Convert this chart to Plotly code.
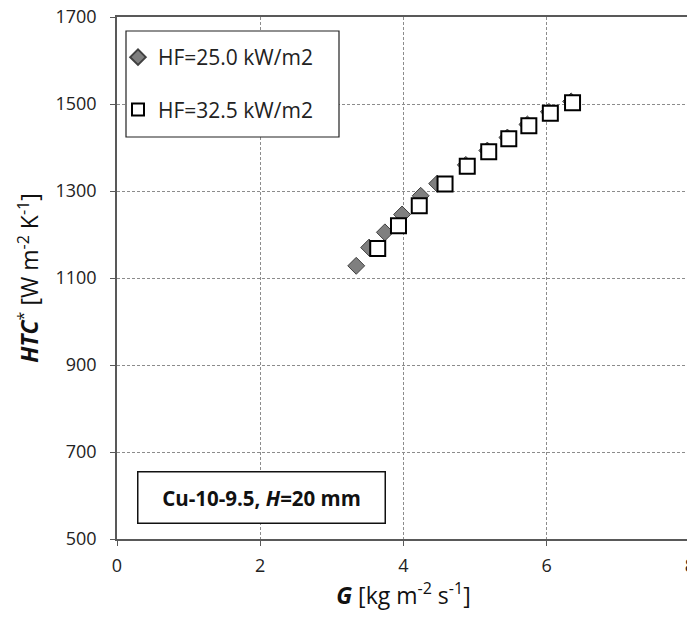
import plotly.graph_objects as go

# Data
g_hf25 = [3.34, 3.52, 3.74, 3.98, 4.24, 4.47, 4.87, 5.17, 5.45, 5.73, 6.03, 6.34]
htc_hf25 = [1128, 1170, 1205, 1246, 1289, 1317, 1360, 1393, 1423, 1453, 1482, 1506]

g_hf32 = [3.64, 3.93, 4.22, 4.58, 4.89, 5.19, 5.47, 5.75, 6.05, 6.36]
htc_hf32 = [1168, 1220, 1266, 1316, 1357, 1390, 1420, 1450, 1479, 1503]

x_ticks = [0, 2, 4, 6, 8]
y_ticks = [500, 700, 900, 1100, 1300, 1500, 1700]

FONT = "Open Sans"
AXC = "#595959"

# The page body adds an 8px offset; figure is sized to compensate.
W, H = 687, 613
L, T = 109, 9
R = W - 682
B = H - 531
PW = W - L - R
PH = H - T - B


def px_x(p):  # page pixel -> paper x
    return (p - 8 - L) / PW


def px_y(p):  # page pixel -> paper y
    return 1 - (p - 8 - T) / PH


fig = go.Figure()
fig.add_trace(go.Scatter(
    x=g_hf25, y=htc_hf25, mode="markers", name="HF=25.0 kW/m2",
    legendgroup="a",
    marker=dict(symbol="diamond", size=13, color="#7F7F7F",
                line=dict(color="#404040", width=1)),
))
fig.add_trace(go.Scatter(
    x=g_hf32, y=htc_hf32, mode="markers", name="HF=32.5 kW/m2",
    legendgroup="b",
    marker=dict(symbol="square", size=15, color="white",
                line=dict(color="black", width=2)),
))

# legend frame
fig.add_shape(type="rect", xref="paper", yref="paper",
              x0=px_x(126), x1=px_x(339), y0=px_y(137), y1=px_y(31),
              line=dict(color="#222222", width=1.2), fillcolor="white",
              layer="above")

fig.update_layout(
    width=W, height=H,
    margin=dict(l=L, r=R, t=T, b=B, autoexpand=False),
    paper_bgcolor="white", plot_bgcolor="white",
    font=dict(family=FONT, color="#222222", size=16),
    showlegend=True,
    legend=dict(
        x=px_x(118), y=px_y(37),
        xanchor="left", yanchor="top",
        bgcolor="rgba(0,0,0,0)", borderwidth=0,
        font=dict(family=FONT, size=21, color="#222222"),
        traceorder="grouped", tracegroupgap=22,
        itemsizing="constant", itemwidth=30,
    ),
    xaxis=dict(
        range=[0, 8], tickvals=x_ticks, ticks="outside", ticklen=5,
        tickcolor=AXC, showline=True, linecolor=AXC, linewidth=1.5,
        mirror=True, showgrid=True, gridcolor="#8C8C8C", griddash="3px,2px",
        gridwidth=1, zeroline=False, automargin=False,
        ticklabelstandoff=5, ticklabeloverflow="allow",
        tickfont=dict(family=FONT, size=18, color="#222222"),
        title=dict(text="<b><i>G</i></b> [kg m<sup>-2</sup> s<sup>-1</sup>]",
                   font=dict(family=FONT, size=23, color="#111111"), standoff=11),
    ),
    yaxis=dict(
        range=[500, 1700], tickvals=y_ticks, ticks="outside", ticklen=5,
        tickcolor=AXC, showline=True, linecolor=AXC, linewidth=1.5,
        mirror=True, showgrid=True, gridcolor="#8C8C8C", griddash="3px,2px",
        gridwidth=1, zeroline=False, automargin=False,
        ticklabelstandoff=10, ticklabeloverflow="allow",
        tickfont=dict(family=FONT, size=18, color="#222222"),
        title=dict(text="<b><i>HTC</i></b><sup>*</sup> [W m<sup>-2</sup> K<sup>-1</sup>]",
                   font=dict(family=FONT, size=23, color="#111111"), standoff=10),
    ),
)

fig.add_annotation(
    xref="paper", yref="paper",
    x=px_x(261), y=px_y(497),
    text="<b>Cu-10-9.5, <i>H</i>=20 mm</b>", showarrow=False,
    font=dict(family=FONT, size=20.5, color="#111111"),
    bordercolor="#111111", borderwidth=1.5, bgcolor="white",
    width=244, height=48, xanchor="center", yanchor="middle",
)

fig.write_html("out.html")
